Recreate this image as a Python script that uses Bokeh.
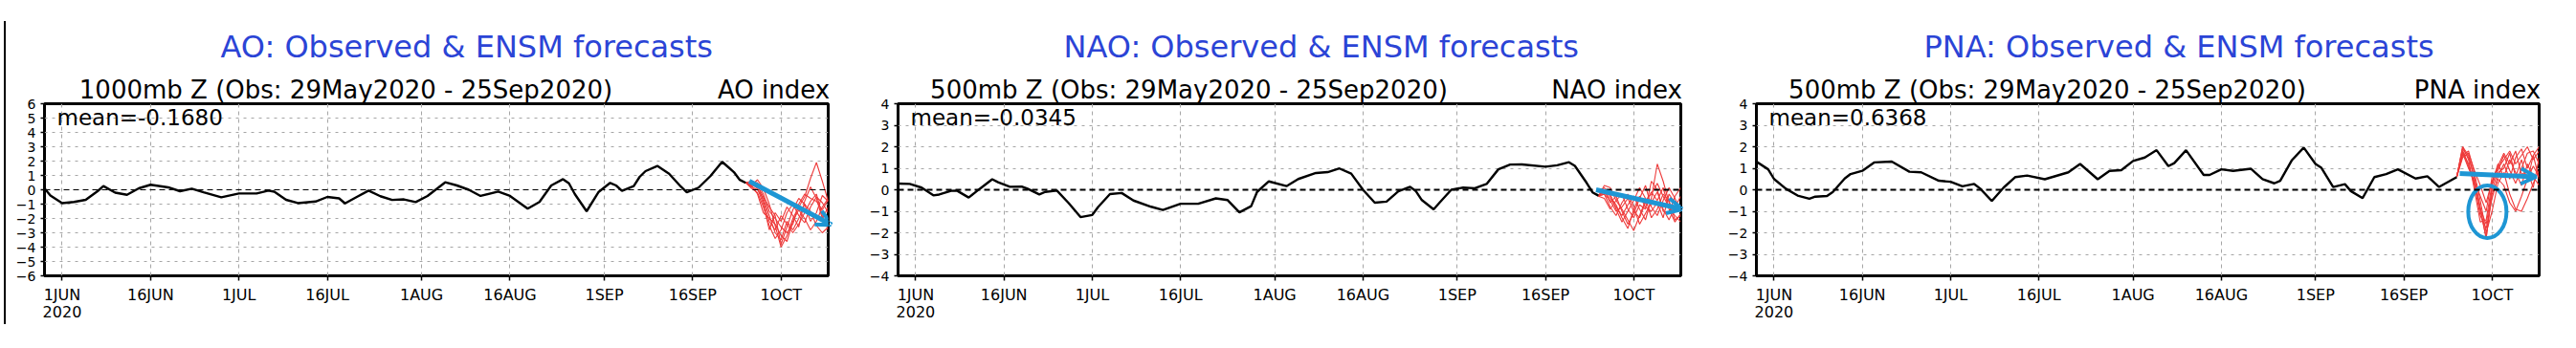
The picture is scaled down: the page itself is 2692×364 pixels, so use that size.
import pandas as pd
from bokeh.plotting import figure
from bokeh.models import Range1d, FixedTicker, Label, Span, Arrow, OpenHead, LinearAxis, Title, Div
from bokeh.layouts import row
from bokeh.embed import file_html
from bokeh.resources import INLINE

# ---------------- data ----------------
obs_start = "2020-05-29"
x_end = "2020-10-09"

tick_dates = ["2020-06-01", "2020-06-16", "2020-07-01", "2020-07-16", "2020-08-01",
              "2020-08-16", "2020-09-01", "2020-09-16", "2020-10-01"]
tick_labels = ["1JUN\n2020", "16JUN", "1JUL", "16JUL", "1AUG", "16AUG", "1SEP", "16SEP", "1OCT"]

# observed index: day offset from 29May2020, value
ao_day = [0, 1, 3, 5, 7, 9, 10, 12, 14, 16, 18, 21, 23, 25, 27, 30, 33, 36, 38, 39, 41, 43, 46, 48, 50,
          51, 53, 55, 57, 59, 61, 63, 65, 68, 70, 72, 74, 77, 79, 82, 84, 86, 88, 89, 90, 92, 94, 96, 97,
          98, 100, 101, 102, 104, 106, 108, 109, 111, 113, 115, 117, 118, 119]
ao_val = [0.1, -0.4, -0.93, -0.85, -0.7, -0.1, 0.26, -0.2, -0.35, 0.1, 0.35, 0.17, -0.1, 0.08, -0.17,
          -0.52, -0.26, -0.26, -0.06, -0.13, -0.7, -0.93, -0.82, -0.5, -0.6, -0.95, -0.5, -0.06, -0.45,
          -0.71, -0.67, -0.86, -0.43, 0.52, 0.3, 0.0, -0.43, -0.13, -0.43, -1.32, -0.85, 0.3, 0.74, 0.45,
          -0.3, -1.5, -0.17, 0.48, 0.3, -0.07, 0.26, 0.9, 1.3, 1.66, 1.12, 0.22, -0.17, 0.15, 0.95, 1.95,
          1.23, 0.69, 0.48]

nao_day = [0, 2, 4, 6, 7, 9, 10, 12, 14, 16, 17, 19, 21, 22, 24, 25, 27, 29, 31, 33, 34, 36, 38, 40, 43,
           45, 48, 51, 54, 56, 58, 60, 61, 63, 66, 68, 71, 73, 75, 77, 79, 81, 83, 85, 87, 88, 89, 91, 92,
           94, 96, 98, 100, 102, 104, 106, 110, 112, 114, 115, 117, 118, 119]
nao_val = [0.29, 0.27, 0.1, -0.26, -0.22, -0.05, -0.04, -0.36, 0.07, 0.49, 0.35, 0.14, 0.15, 0.05, -0.22,
           -0.1, -0.04, -0.62, -1.27, -1.17, -0.8, -0.2, -0.15, -0.5, -0.79, -0.94, -0.65, -0.65, -0.4,
           -0.48, -1.05, -0.76, -0.1, 0.39, 0.17, 0.5, 0.78, 0.82, 0.99, 0.75, 0.0, -0.6, -0.55, -0.07,
           0.14, -0.07, -0.48, -0.91, -0.6, 0.0, 0.1, 0.07, 0.27, 0.95, 1.17, 1.18, 1.07, 1.14, 1.28, 1.11,
           0.32, -0.12, -0.27]

pna_day = [0, 2, 3, 5, 7, 9, 10, 12, 13, 15, 16, 18, 20, 23, 26, 28, 31, 33, 35, 37, 38, 40, 42, 44, 46,
           49, 53, 55, 58, 60, 62, 64, 66, 68, 70, 71, 73, 76, 77, 79, 81, 84, 86, 88, 89, 91, 93, 95, 96,
           98, 100, 101, 103, 105, 107, 109, 112, 114, 116, 119]
pna_val = [1.31, 0.95, 0.5, 0.05, -0.27, -0.42, -0.32, -0.29, -0.1, 0.52, 0.73, 0.88, 1.27, 1.31, 0.84,
           0.81, 0.42, 0.37, 0.16, 0.27, 0.06, -0.52, 0.1, 0.59, 0.66, 0.49, 0.81, 1.2, 0.49, 0.88, 0.91,
           1.34, 1.5, 1.84, 1.1, 1.24, 1.84, 0.69, 0.69, 0.95, 0.88, 0.98, 0.49, 0.3, 0.42, 1.38, 1.96,
           1.2, 1.02, 0.13, 0.26, -0.06, -0.39, 0.59, 0.73, 0.95, 0.52, 0.63, 0.13, 0.59]

# ENSM forecast members (day offsets 119..133)
fc_day = [119, 120, 121, 122, 123, 124, 125, 126, 127, 128, 129, 130, 131, 132, 133]
ao_members = [
    [0.5, 0.3, 0.7, 0.1, -1.0, -2.5, -4.0, -3.2, -2.0, -1.2, -0.5, 0.8, 1.9, 0.6, -0.8],
    [0.5, 0.2, 0.0, -0.6, -1.8, -3.0, -3.5, -2.2, -2.8, -2.0, -1.0, -1.5, -2.5, -3.0, -2.6],
    [0.5, 0.4, 0.5, -0.3, -1.5, -2.0, -2.6, -3.0, -2.4, -1.0, -0.3, -0.6, -0.8, -1.4, -0.7],
    [0.5, 0.1, -0.2, -1.2, -2.5, -3.4, -2.8, -1.6, -1.0, -1.8, -2.3, -1.2, -0.5, -0.9, -1.6],
    [0.5, 0.6, 0.3, -0.5, -1.2, -1.8, -3.8, -2.6, -1.4, -0.6, -1.0, -2.2, -1.6, -0.4, -0.8],
    [0.5, 0.2, 0.4, -0.8, -2.2, -2.8, -1.8, -2.4, -3.0, -2.4, -1.6, -0.8, -0.3, -1.8, -2.8],
    [0.5, 0.3, -0.3, -1.6, -2.0, -2.4, -3.2, -3.6, -2.2, -1.4, -2.0, -2.8, -2.2, -1.2, -0.6],
    [0.5, 0.4, 0.1, -1.0, -2.8, -1.6, -2.2, -1.2, -1.8, -2.6, -0.8, 0.2, -0.6, -2.0, -1.2],
]
nao_members = [
    [-0.3, 0.2, 0.1, -0.5, -0.9, -1.4, -1.9, -1.2, -0.5, -0.2, 0.3, -0.3, -0.8, -1.2, -1.5],
    [-0.3, -0.1, -0.4, -0.8, -1.2, -0.7, -0.3, -0.9, -1.4, -0.4, 1.2, 0.4, -0.6, -1.0, -0.7],
    [-0.3, 0.0, -0.6, -0.3, -1.0, -1.6, -1.1, -0.4, 0.2, -0.8, -1.2, -0.5, 0.1, -0.4, -1.0],
    [-0.3, -0.2, -0.8, -1.2, -0.6, -0.2, -0.8, -1.6, -1.1, -0.6, -0.1, -0.9, -1.4, -0.8, -0.3],
    [-0.3, 0.1, -0.2, -0.9, -1.5, -1.0, -0.5, 0.1, -0.4, -1.3, -0.9, -0.2, -0.5, -1.4, -1.2],
    [-0.3, -0.4, -0.9, -0.5, -0.2, -0.9, -1.3, -0.7, -0.9, 0.4, 0.0, -1.0, -1.1, -0.3, 0.1],
    [-0.3, 0.0, -0.3, -0.7, -1.3, -1.8, -0.9, -0.3, -0.8, -1.0, -0.6, -1.3, -0.2, -0.6, -0.9],
    [-0.3, -0.2, -0.5, -1.0, -0.8, -0.4, -1.0, -1.3, -0.6, -0.1, -0.5, 0.1, -0.9, -1.5, -1.1],
]
pna_members = [
    [0.6, 2.0, 1.6, 0.5, -0.8, -2.3, 0.2, 1.0, 1.4, 1.8, 1.2, 1.6, 2.0, 1.4, 1.8],
    [0.6, 1.8, 1.2, 0.2, -1.2, -1.8, -0.4, 0.6, 1.2, 0.5, 1.5, 1.9, 1.0, 1.6, 2.0],
    [0.6, 1.6, 1.8, 0.8, -0.5, -2.0, -1.0, 0.3, 0.8, -0.2, -0.9, -1.0, -0.4, 0.3, 0.9],
    [0.6, 2.0, 1.4, 0.0, -1.5, -1.4, 0.3, 1.2, 0.6, 1.4, 0.8, 0.2, 1.2, 0.6, 0.2],
    [0.6, 1.7, 1.0, 0.4, -0.3, -1.0, 0.6, 0.9, 1.6, 0.9, 0.3, 1.0, 1.7, 1.8, 1.2],
    [0.6, 1.9, 1.5, 0.6, -1.0, -2.2, -0.2, 0.5, 0.2, -0.6, -1.0, -0.3, 0.5, 1.1, 0.6],
    [0.6, 1.5, 1.7, 0.9, 0.2, -0.6, 0.4, 1.1, 1.7, 1.2, 1.8, 0.7, 0.9, 0.1, 1.5],
    [0.6, 1.8, 1.1, 0.3, -0.9, -1.6, 0.0, 0.8, 1.0, 1.7, 0.6, 1.4, 0.4, 1.6, 0.5],
]

# hand-drawn trend arrows (day offset, value) and the PNA circle
ao_arrow_day = [119.6, 133.6]
ao_arrow_val = [0.6, -2.45]
nao_arrow_day = [118.6, 133.3]
nao_arrow_val = [0.0, -0.9]
pna_arrow_day = [119.5, 132.5]
pna_arrow_val = [0.76, 0.6]
pna_circle_day = 124.2
pna_circle_val = -1.02
pna_circle_w_days = 6.5
pna_circle_h = 2.45

titles = ["AO: Observed & ENSM forecasts", "NAO: Observed & ENSM forecasts",
          "PNA: Observed & ENSM forecasts"]
subtitles = ["1000mb Z (Obs: 29May2020 - 25Sep2020)", "500mb Z (Obs: 29May2020 - 25Sep2020)",
             "500mb Z (Obs: 29May2020 - 25Sep2020)"]
index_names = ["AO index", "NAO index", "PNA index"]
mean_texts = ["mean=-0.1680", "mean=-0.0345", "mean=0.6368"]

# ---------------- styling ----------------
FONT = "DejaVu Sans"
TITLE_BLUE = "#2b44d6"
ARROW_BLUE = "#1e96d4"
RED = "#ee3a3a"
GRID = "#a6a6a6"
H = 346
DAY_MS = 86400000.0


def ms(ts):
    return pd.Timestamp(ts).value / 1e6


X0 = ms(obs_start)
X1 = ms(x_end)


def dx(days):
    return [X0 + d * DAY_MS for d in days]


def panel(fig_x0, width, bl, br, bt, bb, ylim, obs_d, obs_v, members, arr_d, arr_v,
          title, subtitle, idx, mean, zero_w, title_left, sub_center, idx_w, ellipse=None):
    ymin, ymax = ylim
    p = figure(width=width, height=H, output_backend="svg", toolbar_location=None, title=None,
               x_axis_type="datetime", x_range=Range1d(X0, X1), y_range=Range1d(ymin, ymax),
               min_border_left=bl, min_border_right=br, min_border_top=bt, min_border_bottom=bb)
    p.background_fill_color = "white"
    p.border_fill_color = "white"
    p.outline_line_color = "black"
    p.outline_line_width = 3

    L = fig_x0 + bl
    R = fig_x0 + width - br
    T = 8 + bt

    def px(x):
        return X0 + (x - L) / (R - L) * (X1 - X0)

    def py(y):
        return ymax - (y - T) / 185.0 * (ymax - ymin)

    ticks = [int(ms(t)) for t in tick_dates]
    p.xaxis.ticker = FixedTicker(ticks=ticks)
    p.xaxis.major_label_overrides = {t: l for t, l in zip(ticks, tick_labels)}
    p.xgrid.ticker = FixedTicker(ticks=ticks)
    p.xgrid.grid_line_color = GRID
    p.xgrid.grid_line_dash = "4 4"
    yt = list(range(ymin, ymax + 1))
    p.yaxis.ticker = FixedTicker(ticks=yt)
    p.yaxis.major_label_overrides = {v: (str(v) if v >= 0 else "\u2212" + str(-v)) for v in yt}
    p.ygrid.ticker = FixedTicker(ticks=[v for v in yt if v not in (0, ymin, ymax)])
    p.ygrid.grid_line_color = GRID
    p.ygrid.grid_line_dash = "3 5"
    for ax in (p.xaxis, p.yaxis):
        ax.axis_line_color = None
        ax.major_tick_in = 0
        ax.minor_tick_line_color = None
        ax.major_tick_line_color = "black"
        ax.major_tick_line_width = 1.5
        ax.major_label_text_font = FONT
        ax.major_label_text_color = "black"
    p.xaxis.major_tick_out = 5
    p.xaxis.major_label_standoff = 5
    p.xaxis.major_label_text_font_size = "16px"
    p.xaxis.major_label_text_line_height = 0.95
    p.yaxis.major_tick_out = 4
    p.yaxis.major_label_standoff = 5
    p.yaxis.major_label_text_font_size = "14px"

    # subtitle line (left text + right "index" text) drawn as labels of an axis above the frame
    sub_tick = int(px(sub_center))
    idx_tick = int(px(R - idx_w / 2.0))
    top = LinearAxis(ticker=FixedTicker(ticks=[sub_tick, idx_tick]),
                     major_label_overrides={sub_tick: subtitle, idx_tick: idx})
    top.axis_line_color = None
    top.major_tick_line_color = None
    top.minor_tick_line_color = None
    top.major_tick_out = 0
    top.major_tick_in = 0
    top.major_label_standoff = 0
    top.major_label_text_font = FONT
    top.major_label_text_font_size = "26px"
    top.major_label_text_color = "black"
    p.add_layout(top, "above")

    p.add_layout(Title(text=title, align="left", offset=title_left - L,
                       text_font=FONT, text_font_size="32px", text_font_style="normal",
                       text_color=TITLE_BLUE, standoff=15), "above")

    p.add_layout(Span(location=0, dimension="width", line_color="black", line_dash="6 4",
                      line_width=zero_w))

    for m in members:
        p.line(dx(fc_day), m, line_color=RED, line_width=1.1)
    p.line(dx(obs_d), obs_v, line_color="black", line_width=2.4)

    xs = dx(arr_d)
    p.add_layout(Arrow(end=OpenHead(line_color=ARROW_BLUE, line_width=4, size=16),
                       x_start=xs[0], y_start=arr_v[0], x_end=xs[1], y_end=arr_v[1],
                       line_color=ARROW_BLUE, line_width=5))
    if ellipse is not None:
        ed, ev, ew, eh = ellipse
        p.ellipse(x=dx([ed]), y=[ev], width=ew * DAY_MS, height=eh, fill_color=None,
                  line_color=ARROW_BLUE, line_width=4)

    p.add_layout(Label(x=px(L + 13), y=py(T + 15), text=mean, text_font=FONT,
                       text_font_size="23px", text_color="black", text_align="left",
                       text_baseline="middle"))
    return p


# thin vertical rule at the far left of the picture
rule = Div(text='<div style="margin-left:4px;margin-top:22px;width:2px;height:317px;'
                'background:#000000"></div>', width=6, height=H, margin=0)

p1 = panel(14, 886, 40, 27, 103, 58, (-6, 6), ao_day, ao_val, ao_members, ao_arrow_day, ao_arrow_val,
           titles[0], subtitles[0], index_names[0], mean_texts[0], 1.2, 238, 369, 114)
p2 = panel(900, 895, 46, 31, 105, 56, (-4, 4), nao_day, nao_val, nao_members, nao_arrow_day,
           nao_arrow_val, titles[1], subtitles[1], index_names[1], mean_texts[1], 2, 1119, 1250, 134)
p3 = panel(1795, 887, 48, 21, 108, 53, (-4, 4), pna_day, pna_val, pna_members, pna_arrow_day,
           pna_arrow_val, titles[2], subtitles[2], index_names[2], mean_texts[2], 2, 2018, 2147, 129,
           ellipse=(pna_circle_day, pna_circle_val, pna_circle_w_days, pna_circle_h))

layout = row(rule, p1, p2, p3)
open("out.html", "w").write(file_html(layout, INLINE))
